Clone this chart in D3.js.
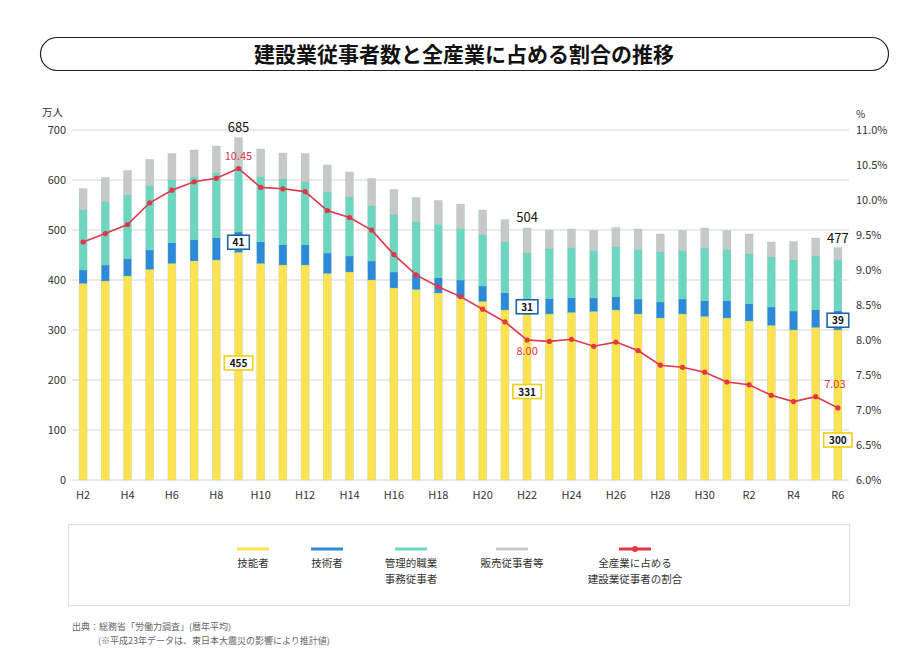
<!DOCTYPE html>
<html>
<head>
<meta charset="utf-8">
<script src="https://cdn.jsdelivr.net/npm/d3@7"></script>
<style>
  body { margin: 0; background: #fff; }
  text { font-family: "Noto Sans CJK JP", "Noto Sans", sans-serif; }
</style>
</head>
<body>
<script>
const svgWidth = 921;
const svgHeight = 672;

// years (H = Heisei, R = Reiwa)
const years = ['H2','H3','H4','H5','H6','H7','H8','H9','H10','H11','H12','H13','H14','H15','H16','H17',
  'H18','H19','H20','H21','H22','H23','H24','H25','H26','H27','H28','H29','H30','R1','R2','R3','R4','R5','R6'];

// 万人
const ginou   = [393,398,408,421,433,438,440,455,433,430,430,413,416,400,384,381,374,365,357,340,331,332,335,337,340,332,324,332,327,324,318,309,300,305,300];
const gijutsu = [27,32,35,39,42,43,45,41,44,41,41,41,32,38,32,32,31,35,31,35,31,31,30,27,27,30,32,30,32,35,35,37,38,36,39];
const kanri   = [120,126,127,129,125,125,129,131,130,131,126,122,118,111,114,104,106,103,102,101,92,99,99,95,99,99,100,97,105,102,99,100,102,107,102];
const hanbai  = [43,49,49,52,53,54,54,58,55,52,56,54,50,54,51,48,48,49,50,45,50,38,38,40,39,41,36,40,40,38,40,30,37,36,24];

// % share of all industries
const share = [9.40,9.52,9.65,9.96,10.14,10.26,10.31,10.45,10.18,10.16,10.12,9.85,9.75,9.57,9.22,8.93,8.76,8.62,8.44,8.26,
  8.00,7.98,8.01,7.91,7.97,7.85,7.64,7.61,7.54,7.40,7.36,7.21,7.12,7.19,7.03];

const leftTicks = [0,100,200,300,400,500,600,700];
const rightTicks = [6.0,6.5,7.0,7.5,8.0,8.5,9.0,9.5,10.0,10.5,11.0];

const seriesNames = ['技能者','技術者','管理的職業\n事務従事者','販売従事者等'];
const seriesColors = ['#ffe24f','#2d8ad9','#6cd6c1','#c8c8c8'];
const lineName = '全産業に占める\n建設業従事者の割合';
const lineColor = '#e2364b';

// callouts
const totalLabels = [{ year: 'H9', text: '685', v: 685 }, { year: 'H22', text: '504', v: 504 }, { year: 'R6', text: '477', v: 477 }];
const shareLabels = [{ year: 'H9', text: '10.45', dy: -9 }, { year: 'H22', text: '8.00', dy: 15 }, { year: 'R6', text: '7.03', dy: -20, dx: -3 }];
const blueLabels = [{ year: 'H9', text: '41' }, { year: 'H22', text: '31' }, { year: 'R6', text: '39' }];
const yellowLabels = [{ year: 'H9', text: '455', v: 234 }, { year: 'H22', text: '331', v: 177 }, { year: 'R6', text: '300', v: 80 }];

const svg = d3.select('body')
              .append('svg')
              .attr('width', svgWidth)
              .attr('height', svgHeight);

// title
svg.append('rect')
   .attr('x', 40.5).attr('y', 37.5)
   .attr('width', 848).attr('height', 33)
   .attr('rx', 16.5)
   .attr('fill', '#fff').attr('stroke', '#222').attr('stroke-width', 1.2);
svg.append('text')
   .attr('x', 464).attr('y', 62)
   .attr('text-anchor', 'middle')
   .attr('font-size', 21).attr('font-weight', 'bold').attr('fill', '#111')
   .text('建設業従事者数と全産業に占める割合の推移');

const x = d3.scaleBand().domain(years).range([72, 849]).paddingInner(0.64).paddingOuter(0.32);
const y = d3.scaleLinear().domain([0, 700]).range([480, 130]);
const y2 = d3.scaleLinear().domain([6, 11]).range([480, 130]);

// grid
svg.append('g').selectAll('line')
   .data(leftTicks)
   .enter().append('line')
   .attr('x1', 72).attr('x2', 849)
   .attr('y1', d => y(d)).attr('y2', d => y(d))
   .attr('stroke', '#e3e3e3').attr('stroke-width', 1.5);

// axes
const leftAxis = svg.append('g')
   .attr('transform', 'translate(66,0)')
   .call(d3.axisLeft(y).tickValues(leftTicks).tickSize(0).tickPadding(0));
leftAxis.select('.domain').remove();
leftAxis.selectAll('text').attr('font-size', 11).attr('fill', '#333');

const rightAxis = svg.append('g')
   .attr('transform', 'translate(856,0)')
   .call(d3.axisRight(y2).tickValues(rightTicks).tickSize(0).tickPadding(0).tickFormat(d => d.toFixed(1) + '%'));
rightAxis.select('.domain').remove();
rightAxis.selectAll('text').attr('font-size', 11).attr('fill', '#333');

const bottomAxis = svg.append('g')
   .attr('transform', 'translate(0,488)')
   .call(d3.axisBottom(x).tickValues(years.filter((d, i) => i % 2 === 0)).tickSize(0).tickPadding(3));
bottomAxis.select('.domain').remove();
bottomAxis.selectAll('text').attr('font-size', 11).attr('fill', '#333');

svg.append('text').attr('x', 42).attr('y', 116).attr('font-size', 10.5).attr('fill', '#333').text('万人');
svg.append('text').attr('x', 856).attr('y', 118).attr('font-size', 10).attr('fill', '#333').text('%');

// stacked bars
const table = years.map((yr, i) => ({ year: yr, s0: ginou[i], s1: gijutsu[i], s2: kanri[i], s3: hanbai[i] }));
const stacked = d3.stack().keys(['s0','s1','s2','s3'])(table);

svg.append('g').selectAll('g')
   .data(stacked)
   .enter().append('g')
   .attr('fill', (d, i) => seriesColors[i])
   .selectAll('rect')
   .data(d => d)
   .enter().append('rect')
   .attr('x', d => x(d.data.year))
   .attr('width', x.bandwidth())
   .attr('y', d => y(d[1]))
   .attr('height', d => y(d[0]) - y(d[1]))
   .attr('stroke', 'rgba(140,200,180,0.55)')
   .attr('stroke-width', 0.5);

// share line
const line = d3.line()
   .x((d, i) => x(years[i]) + x.bandwidth() / 2)
   .y(d => y2(d));
svg.append('path')
   .datum(share)
   .attr('d', line)
   .attr('fill', 'none')
   .attr('stroke', lineColor)
   .attr('stroke-width', 1.6);
svg.append('g').selectAll('circle')
   .data(share)
   .enter().append('circle')
   .attr('cx', (d, i) => x(years[i]) + x.bandwidth() / 2)
   .attr('cy', d => y2(d))
   .attr('r', 2.6)
   .attr('fill', lineColor);

const cx = yr => x(yr) + x.bandwidth() / 2;
const idx = yr => years.indexOf(yr);

// total labels
svg.append('g').selectAll('text')
   .data(totalLabels)
   .enter().append('text')
   .attr('x', d => cx(d.year))
   .attr('y', (d, i) => i === 2 ? y(d.v) + 1 : y(d.v) - 6)
   .attr('text-anchor', 'middle')
   .attr('font-size', 13).attr('fill', '#111')
   .text(d => d.text);

// share labels
svg.append('g').selectAll('text')
   .data(shareLabels)
   .enter().append('text')
   .attr('x', d => cx(d.year) + (d.dx || 0))
   .attr('y', d => y2(share[idx(d.year)]) + d.dy)
   .attr('text-anchor', 'middle')
   .attr('font-size', 11).attr('fill', lineColor)
   .text(d => d.text);

// boxed value labels
function boxLabel(data, yPos, border) {
  const g = svg.append('g').selectAll('g')
     .data(data)
     .enter().append('g')
     .attr('transform', d => `translate(${cx(d.year)},${yPos(d)})`);
  g.append('rect')
   .attr('x', d => -(d.text.length * 3.4 + 4))
   .attr('y', -7)
   .attr('width', d => d.text.length * 6.8 + 8)
   .attr('height', 14)
   .attr('fill', '#fff')
   .attr('stroke', border)
   .attr('stroke-width', 1.6);
  g.append('text')
   .attr('y', 4)
   .attr('text-anchor', 'middle')
   .attr('font-size', 10).attr('font-weight', 'bold').attr('fill', '#111')
   .text(d => d.text);
}
boxLabel(blueLabels, d => { const i = idx(d.year); return y(ginou[i] + gijutsu[i] / 2); }, '#1f63a8');
boxLabel(yellowLabels, d => y(d.v), '#f2cf10');

// legend
svg.append('rect')
   .attr('x', 68.5).attr('y', 524.5)
   .attr('width', 781).attr('height', 81)
   .attr('fill', '#fff').attr('stroke', '#e0e0e0').attr('stroke-width', 1.2);

const legendItems = seriesNames.map((n, i) => ({ name: n, color: seriesColors[i], cx: [253, 327, 411, 512][i] }))
   .concat([{ name: lineName, color: lineColor, cx: 635, dot: true }]);
const lg = svg.append('g').selectAll('g')
   .data(legendItems)
   .enter().append('g')
   .attr('transform', d => `translate(${d.cx},0)`);
lg.append('line')
   .attr('x1', -16).attr('x2', 16)
   .attr('y1', 549).attr('y2', 549)
   .attr('stroke', d => d.color).attr('stroke-width', 3);
lg.filter(d => d.dot).append('circle')
   .attr('cx', 0).attr('cy', 549).attr('r', 3).attr('fill', lineColor);
lg.append('text')
   .attr('text-anchor', 'middle')
   .attr('font-size', 10.5).attr('fill', '#333')
   .selectAll('tspan')
   .data(d => d.name.split('\n'))
   .enter().append('tspan')
   .attr('x', 0)
   .attr('y', (d, i) => 567 + i * 16)
   .text(d => d);

// source
svg.append('text').attr('x', 72).attr('y', 630).attr('font-size', 9).attr('fill', '#666')
   .text('出典：総務省「労働力調査」(暦年平均)');
svg.append('text').attr('x', 98).attr('y', 644).attr('font-size', 9).attr('fill', '#666')
   .text('(※平成23年データは、東日本大震災の影響により推計値)');
</script>
</body>
</html>
